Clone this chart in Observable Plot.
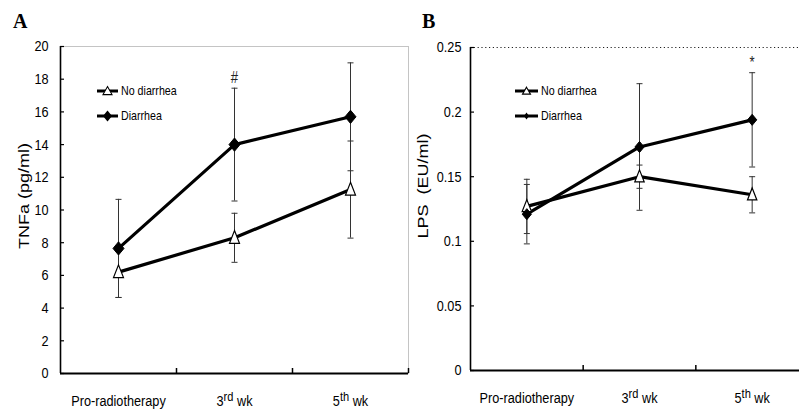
<!DOCTYPE html>
<html>
<head>
<meta charset="utf-8">
<script src="https://cdn.jsdelivr.net/npm/d3@7"></script>
<script src="https://cdn.jsdelivr.net/npm/@observablehq/plot@0.6"></script>
<style>
  body { margin: 0; background: #fff; }
  #wrap { position: relative; width: 799px; height: 413px; overflow: hidden; background: #fff; }
  .panel { position: absolute; top: 0; }
  .plabel { position: absolute; font-family: "Liberation Serif", "Times New Roman", serif; font-weight: bold; font-size: 20px; line-height: 20px; color: #000; }
  .legend { position: absolute; font-family: "Liberation Sans", Arial, sans-serif; font-size: 13px; color: #000; }
  .legend .row { display: flex; align-items: center; height: 25px; }
  .legend svg { display: block; margin-right: 3px; }
  .legend span { display: inline-block; transform: scaleX(0.82); transform-origin: 0 50%; white-space: nowrap; }
</style>
</head>
<body>
<div id="wrap"></div>
<script>
// ---- data ----
const categories = ["Pro-radiotherapy", "3rd wk", "5th wk"];
const groups = ["No diarrhea", "Diarrhea"];

const tnfNoDiarrhea    = [6.2, 8.3, 11.25];
const tnfNoDiarrheaErr = [1.55, 1.5, 2.97];
const tnfDiarrhea      = [7.65, 14.0, 15.7];
const tnfDiarrheaErr   = [3.0, 3.45, 3.3];
const tnfTicks = [0, 2, 4, 6, 8, 10, 12, 14, 16, 18, 20];
const tnfNoteText = ["#"];
const tnfNoteCat = ["3rd wk"];
const tnfNoteY = [18.1];

const lpsNoDiarrhea    = [0.127, 0.150, 0.136];
const lpsNoDiarrheaErr = [0.021, 0.009, 0.014];
const lpsDiarrhea      = [0.121, 0.173, 0.194];
const lpsDiarrheaErr   = [0.023, 0.049, 0.0365];
const lpsTicks = [0, 0.05, 0.1, 0.15, 0.2, 0.25];
const lpsNoteText = ["*"];
const lpsNoteCat = ["5th wk"];
const lpsNoteY = [0.238];

// ---- helpers ----
const SANS = '"Liberation Sans", Arial, sans-serif';
const SQUEEZE = 0.82;

const rows = (vals, errs, group) => categories.map((c, i) => ({cat: c, group, v: vals[i], lo: vals[i] - errs[i], hi: vals[i] + errs[i]}));
const xPos = d => categories.indexOf(d.cat) + 0.5;

const rOf = size => Math.sqrt(size / Math.PI);
const capSymbol = {draw(ctx, size) { const r = rOf(size); ctx.moveTo(-r, 0); ctx.lineTo(r, 0); }};
const triSymbol = {draw(ctx, size) { const r = rOf(size); ctx.moveTo(0, -1.45 * r); ctx.lineTo(r, 1.1 * r); ctx.lineTo(-r, 1.1 * r); ctx.closePath(); }};
const diaSymbol = {draw(ctx, size) { const r = rOf(size); ctx.moveTo(0, -1.2 * r); ctx.lineTo(r, 0); ctx.lineTo(0, 1.2 * r); ctx.lineTo(-r, 0); ctx.closePath(); }};

function superscripts(svg) {
  d3.select(svg).selectAll("text").each(function() {
    const t = this.textContent;
    const m = t.match(/^(\d)(st|nd|rd|th) (.+)$/);
    if (!m) return;
    const sel = d3.select(this);
    sel.text(null);
    sel.append("tspan").text(m[1]);
    sel.append("tspan").attr("dy", -5).attr("font-size", 13.5).text(m[2]);
    sel.append("tspan").attr("dy", 5).text("\u00a0" + m[3]);
  });
}

// the reference figure is horizontally condensed; mimic it on the text
function squeeze(svg) {
  d3.select(svg).selectAll("text").each(function() {
    const tr = this.getAttribute("transform") || "";
    if (tr.includes("rotate")) {
      this.setAttribute("transform", tr + ` scale(1,${SQUEEZE})`);
    } else if (tr.includes("translate")) {
      this.setAttribute("transform", tr + ` scale(${SQUEEZE},1)`);
    } else {
      const len = this.getComputedTextLength();
      if (len > 0) {
        this.setAttribute("textLength", (len * SQUEEZE).toFixed(2));
        this.setAttribute("lengthAdjust", "spacingAndGlyphs");
      }
    }
  });
}

function panel(opts) {
  const no = rows(opts.no, opts.noErr, groups[0]);
  const di = rows(opts.di, opts.diErr, groups[1]);
  const all = no.concat(di);
  const notes = opts.noteText.map((t, i) => ({text: t, cat: opts.noteCat[i], y: opts.noteY[i]}));
  const svg = Plot.plot({
    width: opts.width, height: 413,
    marginLeft: opts.marginLeft, marginRight: opts.marginRight,
    marginTop: opts.marginTop, marginBottom: opts.marginBottom,
    style: {fontFamily: SANS, fontSize: "15.5px", color: "#000", background: "transparent", overflow: "visible"},
    x: {domain: [0, 3]},
    y: {domain: opts.yDomain},
    marks: [
      opts.frame ? Plot.frame({stroke: "#c4c4c4", strokeWidth: 1}) : null,
      opts.dotted ? Plot.ruleY([opts.yDomain[1]], {stroke: "#222", strokeWidth: 1, strokeDasharray: "1.2,2.6"}) : null,
      // error bars
      Plot.ruleX(all, {x: xPos, y1: "lo", y2: "hi", stroke: "#333", strokeWidth: 1}),
      Plot.dot(all, {x: xPos, y: "lo", symbol: capSymbol, r: 3, stroke: "#333", strokeWidth: 1}),
      Plot.dot(all, {x: xPos, y: "hi", symbol: capSymbol, r: 3, stroke: "#333", strokeWidth: 1}),
      // lines
      Plot.line(all, {x: xPos, y: "v", z: "group", stroke: "#000", strokeWidth: 3.2}),
      // markers
      Plot.dot(no, {x: xPos, y: "v", symbol: triSymbol, r: opts.triR, fill: "#fff", stroke: "#000", strokeWidth: 1.2}),
      Plot.dot(di, {x: xPos, y: "v", symbol: diaSymbol, r: opts.diaR, fill: "#000", stroke: "#000", strokeWidth: 1}),
      // annotations
      Plot.text(notes, {x: xPos, y: "y", text: "text", fontSize: 16, fill: "#222"}),
      // axes
      Plot.ruleX([0], {stroke: "#000", strokeWidth: 1.6}),
      Plot.ruleY([0], {stroke: "#000", strokeWidth: 2.2}),
      Plot.axisY(opts.yTicks, {anchor: "left", tickSize: -4, tickPadding: opts.yPad, label: null, tickFormat: d => String(d), strokeWidth: 1.2}),
      Plot.axisX(categories.map((c, i) => i + 0.5), {anchor: "bottom", tickSize: 0, tickPadding: 21, label: null, tickFormat: v => categories[Math.floor(v)]}),
      Plot.axisX([1, 2, 3], {anchor: "bottom", tickSize: -5, tickPadding: 0, label: null, tickFormat: () => "", strokeWidth: 1.5}),
      Plot.text([opts.yLabel], {frameAnchor: "left", textAnchor: "middle", lineAnchor: "middle", rotate: -90, dx: opts.labelDx, dy: opts.labelDy, fontSize: 18, fill: "#000"})
    ]
  });
  superscripts(svg);
  return svg;
}

const wrap = document.getElementById("wrap");

const svgA = panel({
  width: 410, marginLeft: 60, marginRight: 2, marginTop: 46, marginBottom: 40,
  yDomain: [0, 20], yTicks: tnfTicks, yPad: 16,
  no: tnfNoDiarrhea, noErr: tnfNoDiarrheaErr, di: tnfDiarrhea, diErr: tnfDiarrheaErr,
  noteText: tnfNoteText, noteCat: tnfNoteCat, noteY: tnfNoteY,
  triR: 5, diaR: 5.5, frame: true, dotted: false,
  yLabel: "TNFa (pg/ml)", labelDx: -36, labelDy: -14
});
svgA.classList.add("panel");
svgA.style.left = "0px";
wrap.appendChild(svgA);

const svgB = panel({
  width: 408, marginLeft: 70, marginRight: 0, marginTop: 47, marginBottom: 43,
  yDomain: [0, 0.25], yTicks: lpsTicks, yPad: 13,
  no: lpsNoDiarrhea, noErr: lpsNoDiarrheaErr, di: lpsDiarrhea, diErr: lpsDiarrheaErr,
  noteText: lpsNoteText, noteCat: lpsNoteCat, noteY: lpsNoteY,
  triR: 4.7, diaR: 4.6, frame: false, dotted: true,
  yLabel: "LPS  (EU/ml)", labelDx: -47, labelDy: -23
});
svgB.classList.add("panel");
svgB.style.left = "400px";
wrap.appendChild(svgB);

squeeze(svgA);
squeeze(svgB);

// panel letters
[["A", 13, 11], ["B", 422, 11]].forEach(([t, x, y]) => {
  const d = document.createElement("div");
  d.className = "plabel"; d.textContent = t;
  d.style.left = x + "px"; d.style.top = y + "px";
  wrap.appendChild(d);
});

// legends
function legend(left, top, lineW, tri, dia) {
  const box = document.createElement("div");
  box.className = "legend";
  box.style.left = left + "px"; box.style.top = top + "px";
  groups.forEach((g, i) => {
    const row = document.createElement("div");
    row.className = "row";
    const s = d3.create("svg").attr("width", lineW).attr("height", 14);
    s.append("line").attr("x1", 0).attr("x2", lineW).attr("y1", 7).attr("y2", 7).attr("stroke", "#000").attr("stroke-width", 3);
    const cx = lineW / 2;
    if (i === 0) {
      s.append("path").attr("d", `M${cx},${7 - tri[1] * 0.55}L${cx + tri[0] / 2},${7 + tri[1] * 0.45}L${cx - tri[0] / 2},${7 + tri[1] * 0.45}Z`)
        .attr("fill", "#fff").attr("stroke", "#000").attr("stroke-width", 1.1);
    } else {
      s.append("path").attr("d", `M${cx},${7 - dia[1] / 2}L${cx + dia[0] / 2},7L${cx},${7 + dia[1] / 2}L${cx - dia[0] / 2},7Z`)
        .attr("fill", "#000");
    }
    row.appendChild(s.node());
    const sp = document.createElement("span");
    sp.textContent = g;
    row.appendChild(sp);
    box.appendChild(row);
  });
  wrap.appendChild(box);
}
legend(97, 78, 21, [9, 8], [9, 11]);
legend(515, 78, 23, [8, 7], [5, 7]);
</script>
</body>
</html>
